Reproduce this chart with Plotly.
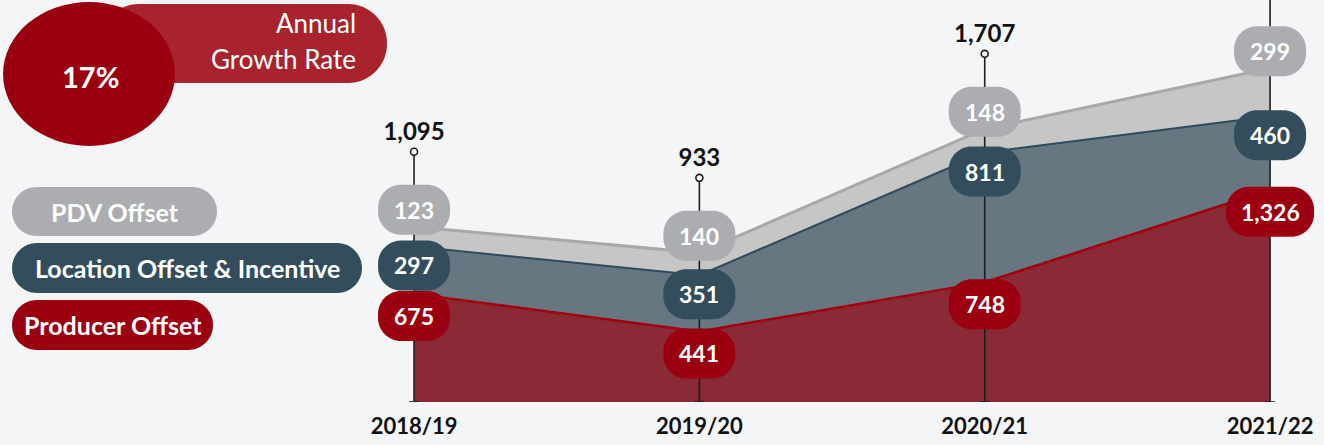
import plotly.graph_objects as go

# ---------------- data ----------------
categories = ["2018/19", "2019/20", "2020/21", "2021/22"]
producer_offset = [675, 441, 748, 1326]
location_offset = [297, 351, 811, 460]
pdv_offset = [123, 140, 148, 299]
total_labels = [1095, 933, 1707, 2085]
growth_rate = "17%"
growth_title = ["Annual", "Growth Rate"]
series_names = ["Producer Offset", "Location Offset & Incentive", "PDV Offset"]

# ---------------- layout constants ----------------
W, H = 1324, 445
ML, MR, MT, MB = 0, 0, 0, 43
PLOT_W = W - ML - MR
PLOT_H = H - MT - MB
Y_MAX = 2512
X_RANGE = [-1.451, 3.189]
UNITS_PER_PX = Y_MAX / PLOT_H

BG = "#f4f5f7"
RED, RED_FILL, RED_LINE = "#9b0010", "#8a2a36", "#a3000f"
DARK, DARK_FILL, DARK_LINE = "#334d5c", "#667781", "#2f4a5a"
GRAY, GRAY_FILL, GRAY_LINE = "#acadb0", "#c6c6c6", "#a8a8a8"
BANNER = "#a8232d"
INK = "#1e1e1e"
FONT = "Lato"

loc_top = [p + l for p, l in zip(producer_offset, location_offset)]
stack_top = [t + d for t, d in zip(loc_top, pdv_offset)]
whisker_top = [t + 75 * UNITS_PER_PX for t in stack_top]


def fmt(v):
    return f"{v:,}"


def pill_path(x0, x1, y0, y1, r):
    """Rounded rectangle path, coordinates in pixels with y pointing up."""
    k = 0.5523 * r
    l, rt, b, t = x0, x1, y0, y1
    return (
        f"M{l+r},{b} L{rt-r},{b} C{rt-r+k},{b} {rt},{b+r-k} {rt},{b+r} "
        f"L{rt},{t-r} C{rt},{t-r+k} {rt-r+k},{t} {rt-r},{t} "
        f"L{l+r},{t} C{l+r-k},{t} {l},{t-r+k} {l},{t-r} "
        f"L{l},{b+r} C{l},{b+r-k} {l+r-k},{b} {l+r},{b} Z"
    )


def screen_pill(x0, y0, x1, y1, r, color):
    # screen pixel coordinates (y down) anchored to top-left of the figure
    return dict(
        type="path", xref="paper", yref="paper",
        xsizemode="pixel", ysizemode="pixel", xanchor=0, yanchor=1,
        path=pill_path(x0 - ML, x1 - ML, -(y1 - MT), -(y0 - MT), r),
        fillcolor=color, line=dict(width=0), layer="above",
    )


def px2paper(x, y):
    return (x - ML) / PLOT_W, (H - MB - y) / PLOT_H


fig = go.Figure()

# ---------------- stacked areas ----------------
for name, vals, fillc, linec, lw in [
    (series_names[0], producer_offset, RED_FILL, RED_LINE, 2.5),
    (series_names[1], location_offset, DARK_FILL, DARK_LINE, 2),
    (series_names[2], pdv_offset, GRAY_FILL, GRAY_LINE, 3),
]:
    fig.add_trace(go.Scatter(
        x=categories, y=vals, name=name, mode="lines", stackgroup="one",
        line=dict(color=linec, width=lw), fillcolor=fillc,
        hoverinfo="skip", showlegend=False,
    ))

# ---------------- whiskers with totals ----------------
for cat, top in zip(categories, whisker_top):
    fig.add_trace(go.Scatter(
        x=[cat, cat], y=[0, top], mode="lines",
        line=dict(color=INK, width=1.6), hoverinfo="skip", showlegend=False,
    ))
fig.add_trace(go.Scatter(
    x=categories, y=[0] * len(categories), mode="markers",
    marker=dict(symbol="line-ew", size=7, line=dict(color=INK, width=1.6)),
    hoverinfo="skip", showlegend=False,
))
fig.add_trace(go.Scatter(
    x=categories, y=whisker_top, mode="markers+text",
    text=[fmt(t) if top < Y_MAX else "" for t, top in zip(total_labels, whisker_top)],
    textposition="top center",
    textfont=dict(family=FONT, size=24, color="#111111", weight="bold"),
    marker=dict(symbol="circle", size=7, color=BG, line=dict(color=INK, width=1.6)),
    cliponaxis=True, hoverinfo="skip", showlegend=False,
))

shapes = []
annotations = []

# ---------------- value pills ----------------
label_sets = [
    (pdv_offset, stack_top, GRAY, 17),
    (location_offset, loc_top, DARK, -19),
    (producer_offset, producer_offset, RED, -22),
]
for vals, anchors, color, dy in label_sets:
    for i, (v, a) in enumerate(zip(vals, anchors)):
        txt = fmt(v)
        w = 72 if len(txt) <= 3 else 88
        h = 50
        shapes.append(dict(
            type="path", xref="x", yref="y", xsizemode="pixel", ysizemode="pixel",
            xanchor=i, yanchor=a,
            path=pill_path(-w / 2, w / 2, dy - h / 2, dy + h / 2, 23),
            fillcolor=color, line=dict(width=0), layer="above",
        ))
        annotations.append(dict(
            x=i, y=a, xref="x", yref="y", yshift=dy, text=txt, showarrow=False,
            font=dict(family=FONT, size=23, color="white", weight="bold"),
            xanchor="center", yanchor="middle",
        ))

# ---------------- growth-rate badge ----------------
shapes.append(screen_pill(100, 4, 387, 83, 39, BANNER))
cx0, cy0 = px2paper(3, 2)
cx1, cy1 = px2paper(175, 146)
shapes.append(dict(type="circle", xref="paper", yref="paper",
                   x0=cx0, x1=cx1, y0=cy1, y1=cy0,
                   fillcolor=RED, line=dict(width=0), layer="above"))
gx, gy = px2paper(90, 76)
annotations.append(dict(x=gx, y=gy, xref="paper", yref="paper", text=growth_rate,
                        showarrow=False, xanchor="center", yanchor="middle",
                        font=dict(family=FONT, size=29, color="white", weight="bold")))
for line_txt, ypx in zip(growth_title, [23, 59]):
    tx, ty = px2paper(358, ypx)
    annotations.append(dict(x=tx, y=ty, xref="paper", yref="paper",
                            text=line_txt, showarrow=False,
                            xanchor="right", yanchor="middle", align="right",
                            font=dict(family=FONT, size=26, color="white")))

# ---------------- legend pills ----------------
legend_items = [
    (series_names[2], GRAY, (12, 187, 217, 236)),
    (series_names[1], DARK, (12, 243, 362, 293)),
    (series_names[0], RED, (12, 300, 213, 350)),
]
for name, color, (x0, y0, x1, y1) in legend_items:
    shapes.append(screen_pill(x0, y0, x1, y1, (y1 - y0) / 2, color))
    lx, ly = px2paper((x0 + x1) / 2, (y0 + y1) / 2)
    annotations.append(dict(x=lx, y=ly, xref="paper", yref="paper", text=name,
                            showarrow=False, xanchor="center", yanchor="middle",
                            font=dict(family=FONT, size=25, color="white", weight="bold")))

fig.update_layout(
    width=W, height=H,
    margin=dict(l=ML, r=MR, t=MT, b=MB, pad=0),
    paper_bgcolor=BG, plot_bgcolor=BG,
    shapes=shapes, annotations=annotations,
    showlegend=False,
    xaxis=dict(type="category", range=X_RANGE, showgrid=False, zeroline=False,
               showline=False, ticks="", fixedrange=True, ticklabelstandoff=9,
               tickfont=dict(family=FONT, size=22, color="#111111", weight="bold")),
    yaxis=dict(range=[0, Y_MAX], visible=False, showgrid=False, zeroline=False,
               fixedrange=True),
)

fig.write_html(
    "out.html",
    config={"displayModeBar": False},
    post_script="document.body.style.margin='0px';document.body.style.background='%s';" % BG,
)
